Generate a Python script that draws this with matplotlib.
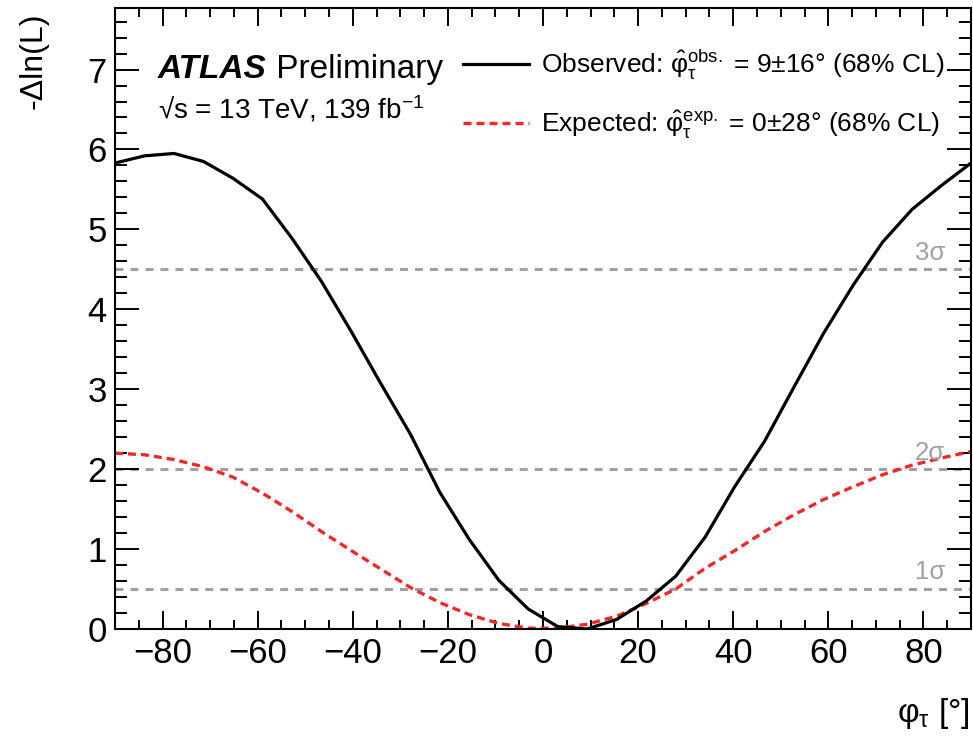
import matplotlib
matplotlib.use('Agg')
import matplotlib.pyplot as plt
from matplotlib.ticker import MultipleLocator

plt.rcParams['font.family'] = ['Liberation Sans', 'DejaVu Sans']
plt.rcParams['mathtext.fontset'] = 'custom'
plt.rcParams['mathtext.rm'] = 'Liberation Sans'
plt.rcParams['mathtext.it'] = 'Liberation Sans:italic'
plt.rcParams['mathtext.bf'] = 'Liberation Sans:bold'
plt.rcParams['mathtext.sf'] = 'Liberation Sans'

# ---- data ----
phi = [-90.0, -83.8, -77.6, -71.4, -65.2, -59.0, -52.8, -46.6, -40.3, -34.1,
       -27.9, -21.7, -15.5, -9.3, -3.1, 3.1, 9.3, 15.5, 21.7, 27.9,
       34.1, 40.3, 46.6, 52.8, 59.0, 65.2, 71.4, 77.6, 83.8, 90.0]
observed = [5.83, 5.92, 5.95, 5.85, 5.64, 5.38, 4.89, 4.35, 3.72, 3.07,
            2.44, 1.71, 1.12, 0.61, 0.25, 0.03, 0.00, 0.12, 0.35, 0.66,
            1.15, 1.78, 2.35, 3.03, 3.70, 4.30, 4.84, 5.25, 5.55, 5.83]
expected = [2.20, 2.18, 2.12, 2.03, 1.90, 1.70, 1.47, 1.22, 0.98, 0.75,
            0.52, 0.33, 0.18, 0.07, 0.01, 0.01, 0.06, 0.16, 0.32, 0.50,
            0.76, 0.98, 1.22, 1.43, 1.62, 1.78, 1.93, 2.05, 2.14, 2.22]
sigma_levels = [0.5, 2.0, 4.5]
sigma_labels = ['1σ', '2σ', '3σ']
obs_label = r'Observed: $\hat{\mathrm{\varphi}}_{\mathrm{\tau}}^{\mathrm{obs.}}$ = 9±16° (68% CL)'
exp_label = r'Expected: $\hat{\mathrm{\varphi}}_{\mathrm{\tau}}^{\mathrm{exp.}}$ = 0±28° (68% CL)'

W, H = 973, 737
fig = plt.figure(figsize=(W / 100, H / 100), dpi=100)
ax = fig.add_axes([115 / W, 1 - 629 / H, 856 / W, 621 / H])

grey = '#a0a0a0'
for lvl, lab in zip(sigma_levels, sigma_labels):
    ax.axhline(lvl, color=grey, lw=2.2, ls=(0, (2.6, 2.3)), zorder=1)
    ax.text(84.6, lvl + 0.12, lab, color=grey, fontsize=18.5, ha='right', va='baseline')

l_obs, = ax.plot(phi, observed, color='black', lw=2.3, zorder=3)
l_exp, = ax.plot(phi, expected, color='#f02828', lw=2.4, ls=(0, (2.4, 1.5)), zorder=2)

ax.set_xlim(-90, 90)
ax.set_ylim(0, 7.77)
ax.xaxis.set_major_locator(MultipleLocator(20))
ax.xaxis.set_minor_locator(MultipleLocator(5))
ax.yaxis.set_major_locator(MultipleLocator(1))
ax.yaxis.set_minor_locator(MultipleLocator(0.2))
ax.tick_params(which='both', direction='in', top=True, right=True, width=1.4, labelsize=25)
ax.tick_params(axis='y', which='major', length=17, pad=6)
ax.tick_params(axis='y', which='minor', length=8.5)
ax.tick_params(axis='x', which='major', length=13, pad=6)
ax.tick_params(axis='x', which='minor', length=6.5)
for s in ax.spines.values():
    s.set_linewidth(1.5)

fig.text(0.035, 0.983, '-Δln(L)', rotation=90, ha='center', va='top', fontsize=23)
fig.text(0.997, 0.02, r'$\mathrm{\varphi}_{\mathrm{\tau}}$ [°]', ha='right', va='baseline', fontsize=24)

t1 = ax.text(0.05, 0.887, 'ATLAS', transform=ax.transAxes, fontsize=24,
             fontweight='bold', fontstyle='italic', va='baseline')
ax.annotate(' Preliminary', xy=(1, 0), xycoords=t1, fontsize=24, va='bottom')
ax.text(0.05, 0.822, r'√s = 13 TeV, 139 fb$^{-1}$', transform=ax.transAxes,
        fontsize=20, va='baseline')

ax.legend([l_obs, l_exp], [obs_label, exp_label], loc='upper left',
          bbox_to_anchor=(0.4065, 0.935), frameon=False, fontsize=19,
          handlelength=2.5, handletextpad=0.45, labelspacing=0.97,
          borderpad=0, borderaxespad=0)

fig.savefig('out.png', dpi=100)
